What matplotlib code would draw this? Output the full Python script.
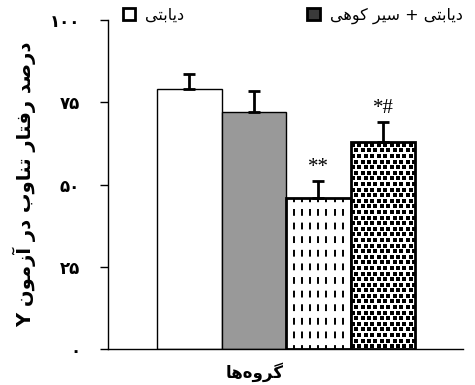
import matplotlib
matplotlib.use("Agg")
import matplotlib.pyplot as plt
from matplotlib.patches import Patch
import numpy as np


# =====================================================
# DATA
# =====================================================

groups = ["کنترل", "کنترل + سیر کوهی", "دیابتی", "دیابتی + سیر کوهی"]
means = [78.9, 71.9, 46.0, 63.0]
errors = [4.7, 6.6, 5.1, 6.1]
marks = ["", "", "**", "*#"]

y_ticks = [0, 25, 50, 75, 100]
y_tick_labels = ["۰", "۲۵", "۵۰", "۷۵", "۱۰۰"]

y_label = "درصد رفتار تناوب در آزمون Y"
x_label = "گروه‌ها"


# =====================================================
# PERSIAN SHAPING (matplotlib has no bidi / joining)
# =====================================================

# isolated, final, initial, medial
FORMS = {
    "ا": ("\uFE8D", "\uFE8E"),
    "آ": ("\uFE81", "\uFE82"),
    "د": ("\uFEA9", "\uFEAA"),
    "ر": ("\uFEAD", "\uFEAE"),
    "ز": ("\uFEAF", "\uFEB0"),
    "و": ("\uFEED", "\uFEEE"),
    "ب": ("\uFE8F", "\uFE90", "\uFE91", "\uFE92"),
    "ت": ("\uFE95", "\uFE96", "\uFE97", "\uFE98"),
    "س": ("\uFEB1", "\uFEB2", "\uFEB3", "\uFEB4"),
    "ص": ("\uFEB9", "\uFEBA", "\uFEBB", "\uFEBC"),
    "ف": ("\uFED1", "\uFED2", "\uFED3", "\uFED4"),
    "م": ("\uFEE1", "\uFEE2", "\uFEE3", "\uFEE4"),
    "ن": ("\uFEE5", "\uFEE6", "\uFEE7", "\uFEE8"),
    "ه": ("\uFEE9", "\uFEEA", "\uFEEB", "\uFEEC"),
    "ل": ("\uFEDD", "\uFEDE", "\uFEDF", "\uFEE0"),
    "ی": ("\uFBFC", "\uFBFD", "\uFBFE", "\uFBFF"),
    "ک": ("\uFB8E", "\uFB8F", "\uFB90", "\uFB91"),
    "گ": ("\uFB92", "\uFB93", "\uFB94", "\uFB95"),
}


def fa(text):
    out = []
    for i, ch in enumerate(text):
        if ch not in FORMS:
            if ch != "\u200c":
                out.append(ch)
            continue
        f = FORMS[ch]
        prev = text[i - 1] if i > 0 else ""
        nxt = text[i + 1] if i + 1 < len(text) else ""
        join_prev = prev in FORMS and len(FORMS[prev]) == 4
        join_next = len(f) == 4 and nxt in FORMS
        if join_prev and join_next:
            out.append(f[3])
        elif join_prev:
            out.append(f[1])
        elif join_next:
            out.append(f[2])
        else:
            out.append(f[0])
    return "".join(out)[::-1]


# =====================================================
# PLOT
# =====================================================

plt.rcParams["font.family"] = ["DejaVu Sans"]

fig = plt.figure(figsize=(4.75, 3.85), dpi=100)
ax = fig.add_axes([0.2274, 0.0935, 0.7473, 0.8545])

x = np.arange(len(groups))
faces = ["white", "#999999", "white", "white"]
edge_w = [1.0, 1.0, 2.0, 2.0]

bars = ax.bar(
    x,
    means,
    width=1.0,
    color=faces,
    edgecolor="black",
    linewidth=edge_w,
    zorder=2
)

ax.errorbar(
    x,
    means,
    yerr=[np.zeros(len(means)), errors],
    fmt="none",
    ecolor="black",
    elinewidth=2.0,
    capsize=4.0,
    capthick=2.0,
    zorder=3
)

ax.set_xlim(-1.26, 4.24)
ax.set_ylim(0, 100)

# dashed vertical strokes inside the third bar
b3 = bars[2]
for xv in np.linspace(b3.get_x(), b3.get_x() + b3.get_width(), 9)[1:-1]:
    ln, = ax.plot(
        [xv, xv],
        [0, b3.get_height()],
        color="black",
        linewidth=1.4,
        linestyle=(1.5, (3.5, 3.5)),
        zorder=2.5
    )
    ln.set_clip_path(b3)

# small black squares filling the fourth bar
b4 = bars[3]
step_x = b4.get_width() / 10.0
step_y = 1.7
pts_x, pts_y = [], []
for r, yv in enumerate(np.arange(step_y / 2, b4.get_height(), step_y)):
    shift = (step_x / 2) * (r % 2)
    for xv in np.arange(b4.get_x() + step_x / 3 + shift, b4.get_x() + b4.get_width(), step_x):
        pts_x.append(xv)
        pts_y.append(yv)
sq = ax.scatter(
    pts_x,
    pts_y,
    marker="s",
    s=6.5,
    color="black",
    linewidths=0,
    zorder=2.4
)
sq.set_clip_path(b4)

for xi, m, e, s in zip(x, means, errors, marks):
    if s:
        ax.text(
            xi,
            m + e + 1.2,
            s,
            ha="center",
            va="bottom",
            fontsize=15,
            family="Liberation Serif"
        )

ax.set_xticks([])
ax.set_yticks(y_ticks)
ax.set_yticklabels(y_tick_labels, fontsize=12, fontweight="bold")
ax.tick_params(axis="y", length=6, width=1, pad=14)

for side in ["top", "right"]:
    ax.spines[side].set_visible(False)
ax.spines["left"].set_linewidth(1.0)
ax.spines["bottom"].set_linewidth(1.0)

ax.set_ylabel(fa(y_label), fontsize=14, fontweight="bold", labelpad=10)
ax.set_xlabel(fa(x_label), fontsize=12, fontweight="bold")
ax.xaxis.set_label_coords(0.414, -0.04)

handles = [
    Patch(facecolor="white", edgecolor="black", linewidth=2.0),
    Patch(facecolor="#3a3a3a", edgecolor="black", linewidth=2.0),
]
fig.legend(
    handles,
    [fa(groups[2]), fa(groups[3])],
    loc="upper left",
    bbox_to_anchor=(0.228, 1.018),
    ncol=2,
    frameon=False,
    fontsize=11.5,
    handlelength=0.8,
    handleheight=0.8,
    handletextpad=0.6,
    columnspacing=7.7
)

plt.savefig("out.png", dpi=100)
